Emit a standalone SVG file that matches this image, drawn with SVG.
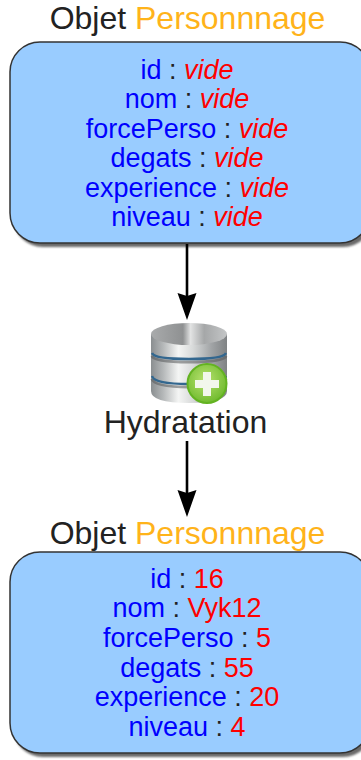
<svg xmlns="http://www.w3.org/2000/svg" width="361" height="760" viewBox="0 0 361 760">
<style>
text{font-family:"Liberation Sans",Arial,sans-serif;text-anchor:middle;fill:#222}
.t{font-size:32px}
.f{font-size:27px}
.k{fill:#0000ff}
.v{fill:#ff0000}
.o{fill:#ffb31a}
.c{fill:#222}
.i{font-style:italic}
.box{fill:#99ccff;stroke:#333;stroke-width:1.5}
.sh{fill:#444;opacity:.8;filter:url(#soft)}
.line{stroke:#000;stroke-width:2.6;fill:none}
.head{fill:#000}
.band{fill:none;stroke:#33678f;stroke-width:2.4}
.dark{fill:none;stroke:#55585a;stroke-width:3;opacity:.55}
</style>
<defs>
<filter id="soft" x="-5%" y="-5%" width="110%" height="110%"><feGaussianBlur stdDeviation="1.2"/></filter>
<linearGradient id="metal" x1="0" x2="1" y1="0" y2="0">
<stop offset="0" stop-color="#8a8e90"/><stop offset=".16" stop-color="#b5b8b9"/><stop offset=".36" stop-color="#f4f5f4"/><stop offset=".55" stop-color="#d8dada"/><stop offset=".8" stop-color="#a0a3a5"/><stop offset="1" stop-color="#7f8284"/>
</linearGradient>
<linearGradient id="top" x1="0" x2="1" y1="0" y2="0">
<stop offset="0" stop-color="#a9abac"/><stop offset=".42" stop-color="#8f9192"/><stop offset=".52" stop-color="#e2e3e3"/><stop offset=".7" stop-color="#a5a7a8"/><stop offset="1" stop-color="#c4c6c7"/>
</linearGradient>
<radialGradient id="green" cx=".45" cy=".4" r=".65">
<stop offset="0" stop-color="#b8e270"/><stop offset="1" stop-color="#6bb82a"/>
</radialGradient>
</defs>
<g id="title-top"><text class="t" x="187.500" y="29"><tspan class="c">Objet </tspan><tspan class="o">Personnnage</tspan></text></g>
<g id="object-empty">
<rect class="sh" x="13" y="46" width="360" height="201" rx="30"/>
<rect class="box" x="10" y="42" width="360" height="201" rx="30"/>
<text class="f" x="187" y="79"><tspan class="k">id</tspan> : <tspan class="v i">vide</tspan></text>
<text class="f" x="187" y="108"><tspan class="k">nom</tspan> : <tspan class="v i">vide</tspan></text>
<text class="f" x="187" y="138"><tspan class="k">forcePerso</tspan> : <tspan class="v i">vide</tspan></text>
<text class="f" x="187" y="167"><tspan class="k">degats</tspan> : <tspan class="v i">vide</tspan></text>
<text class="f" x="187" y="197"><tspan class="k">experience</tspan> : <tspan class="v i">vide</tspan></text>
<text class="f" x="187" y="226"><tspan class="k">niveau</tspan> : <tspan class="v i">vide</tspan></text>
</g>
<g id="connectors">
<line class="line" x1="187" y1="244" x2="187" y2="297"/>
<path class="head" d="M177.500 293L187 296L196.500 293L187 320Z"/>
<line class="line" x1="187" y1="441" x2="187" y2="493"/>
<path class="head" d="M177.500 490L187 493L196.500 490L187 517Z"/>
</g>
<g id="hydratation">
<path d="M151 334V391Q151 403 189 403Q227 403 227 391V334Z" fill="url(#metal)"/>
<path class="dark" d="M152 356Q154 362 189 362Q224 362 226 356"/>
<path class="dark" d="M152 379Q154 387 189 387Q224 387 226 379"/>
<ellipse cx="189" cy="334" rx="38" ry="11" fill="url(#top)"/>
<path class="band" d="M152 353Q154 359 189 359Q224 359 226 353"/>
<path class="band" d="M152 376Q154 384 189 384Q224 384 226 376"/>
<circle cx="207" cy="383.500" r="19.500" fill="url(#green)" stroke="#63b321" stroke-width="2"/>
<path d="M203 372H211V380H219V388H211V396H203V388H195V380H203Z" fill="#f2f7ec"/>
<text class="t" x="185.500" y="433">Hydratation</text>
</g>
<g id="title-bottom"><text class="t" x="187.500" y="544"><tspan class="c">Objet </tspan><tspan class="o">Personnnage</tspan></text></g>
<g id="object-filled">
<rect class="sh" x="13" y="556" width="360" height="201" rx="30"/>
<rect class="box" x="10" y="552" width="360" height="201" rx="30"/>
<text class="f" x="187" y="588"><tspan class="k">id</tspan> : <tspan class="v">16</tspan></text>
<text class="f" x="187" y="617"><tspan class="k">nom</tspan> : <tspan class="v">Vyk12</tspan></text>
<text class="f" x="187" y="647"><tspan class="k">forcePerso</tspan> : <tspan class="v">5</tspan></text>
<text class="f" x="187" y="677"><tspan class="k">degats</tspan> : <tspan class="v">55</tspan></text>
<text class="f" x="187" y="706"><tspan class="k">experience</tspan> : <tspan class="v">20</tspan></text>
<text class="f" x="187" y="736"><tspan class="k">niveau</tspan> : <tspan class="v">4</tspan></text>
</g>
</svg>
